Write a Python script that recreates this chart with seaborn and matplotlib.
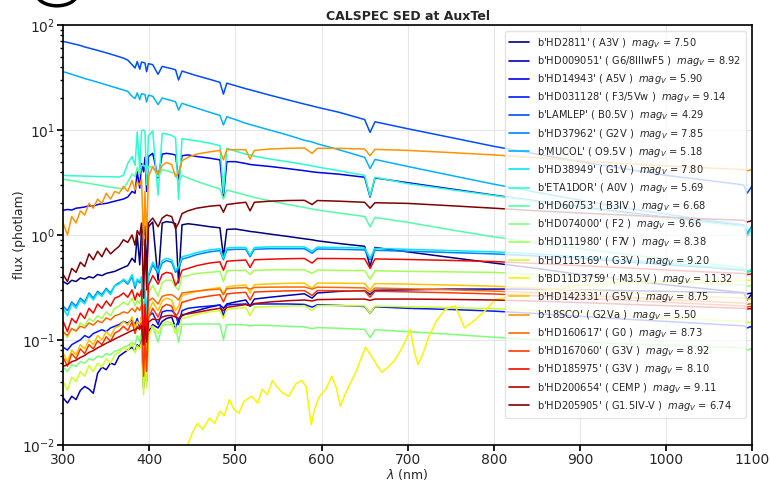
import numpy as np
import pandas as pd
import matplotlib
matplotlib.use("Agg")
import matplotlib.pyplot as plt
import seaborn as sns
from matplotlib.patches import Circle

# ---------------- data ----------------
names = ["HD2811", "HD009051", "HD14943", "HD031128", "LAMLEP", "HD37962", "MUCOL",
         "HD38949", "ETA1DOR", "HD60753", "HD074000", "HD111980", "HD115169",
         "BD11D3759", "HD142331", "18SCO", "HD160617", "HD167060", "HD185975",
         "HD200654", "HD205905"]
sptypes = ["A3V", "G6/8IIIwF5", "A5V", "F3/5Vw", "B0.5V", "G2V", "O9.5V", "G1V", "A0V",
           "B3IV", "F2", "F7V", "G3V", "M3.5V", "G5V", "G2Va", "G0", "G3V", "G3V",
           "CEMP", "G1.5IV-V"]
mags = [7.50, 8.92, 5.90, 9.14, 4.29, 7.85, 5.18, 7.80, 5.69, 6.68, 9.66, 8.38, 9.20,
        11.32, 8.75, 5.50, 8.73, 8.92, 8.10, 9.11, 6.74]

wl = [300, 305, 310, 315, 320, 325, 330, 335, 340, 345,
      350, 355, 360, 365, 370, 375, 380, 383.5, 386, 388.9,
      391, 393.4, 395, 396.9, 399, 404, 410.2, 415, 420, 426,
      430.5, 434, 438, 445, 455, 470, 482, 486.1, 490, 500,
      512, 517, 522, 540, 560, 580, 589, 595, 620, 650,
      656.3, 662, 700, 750, 800, 850, 900, 950, 1000, 1050,
      1090, 1094, 1100]

f_HD2811 = [0.36, 0.34, 0.37, 0.36, 0.39, 0.38, 0.40, 0.39, 0.42, 0.41,
            0.43, 0.44, 0.45, 0.47, 0.49, 0.51, 0.60, 0.55, 1.00, 0.52,
            1.15, 1.00, 1.22, 0.45, 1.20, 1.33, 0.37, 1.30, 1.34, 1.32,
            1.28, 0.35, 1.25, 1.28, 1.25, 1.20, 1.17, 0.62, 1.13, 1.14,
            1.10, 1.08, 1.07, 1.02, 0.97, 0.92, 0.90, 0.88, 0.83, 0.78,
            0.50, 0.76, 0.69, 0.61, 0.54, 0.48, 0.42, 0.375, 0.335, 0.305,
            0.282, 0.24, 0.278]
f_HD009051 = [0.028, 0.025, 0.029, 0.027, 0.033, 0.036, 0.034, 0.031, 0.048, 0.055,
              0.052, 0.060, 0.058, 0.070, 0.075, 0.080, 0.085, 0.078, 0.090, 0.085,
              0.100, 0.035, 0.090, 0.040, 0.120, 0.140, 0.130, 0.150, 0.160, 0.165,
              0.130, 0.155, 0.170, 0.180, 0.190, 0.205, 0.215, 0.200, 0.220, 0.230,
              0.240, 0.210, 0.245, 0.255, 0.265, 0.275, 0.250, 0.280, 0.290, 0.295,
              0.270, 0.297, 0.300, 0.305, 0.305, 0.305, 0.300, 0.295, 0.290, 0.285,
              0.280, 0.275, 0.280]
f_HD14943 = [1.72, 1.75, 1.73, 1.80, 1.82, 1.85, 1.90, 1.88, 1.95, 1.98,
             2.00, 2.05, 2.10, 2.15, 2.20, 2.30, 2.60, 2.50, 4.00, 2.80,
             4.80, 4.00, 5.50, 2.60, 5.60, 6.00, 3.50, 5.90, 6.00, 5.90,
             5.80, 3.40, 5.70, 5.80, 5.60, 5.40, 5.20, 2.30, 5.00, 5.00,
             4.80, 4.70, 4.65, 4.50, 4.30, 4.10, 4.00, 3.95, 3.80, 3.55,
             2.30, 3.50, 3.15, 2.75, 2.40, 2.10, 1.85, 1.65, 1.48, 1.33,
             1.23, 1.00, 1.21]
f_HD031128 = [0.085, 0.080, 0.090, 0.095, 0.100, 0.110, 0.105, 0.115, 0.120, 0.125,
              0.120, 0.130, 0.135, 0.140, 0.150, 0.145, 0.155, 0.140, 0.160, 0.130,
              0.165, 0.100, 0.160, 0.090, 0.170, 0.180, 0.140, 0.185, 0.190, 0.190,
              0.175, 0.140, 0.190, 0.200, 0.205, 0.210, 0.215, 0.170, 0.215, 0.218,
              0.220, 0.210, 0.220, 0.220, 0.220, 0.218, 0.205, 0.216, 0.213, 0.208,
              0.180, 0.207, 0.200, 0.195, 0.188, 0.178, 0.168, 0.158, 0.150, 0.142,
              0.136, 0.130, 0.135]
f_LAMLEP = [70, 68.5, 67, 65.5, 64, 62, 60.5, 59, 57.5, 56,
            54.5, 53, 51.5, 50, 48.5, 46.5, 42, 39, 45, 38,
            44.5, 44, 43.5, 36, 43, 42, 34, 40.5, 39.5, 38.5,
            37.5, 30, 36.5, 35, 33, 30.5, 28.5, 22, 28, 26.5,
            24.8, 24.2, 23.6, 21.5, 19.5, 17.7, 17, 16.5, 14.8, 12.6,
            9.5, 12, 10.3, 8.5, 7.0, 5.9, 5.0, 4.3, 3.7, 3.3,
            3.0, 2.5, 2.95]
f_HD37962 = [0.21, 0.19, 0.23, 0.21, 0.25, 0.23, 0.28, 0.25, 0.29, 0.27,
             0.31, 0.28, 0.33, 0.35, 0.37, 0.34, 0.40, 0.31, 0.37, 0.35,
             0.38, 0.11, 0.29, 0.13, 0.40, 0.52, 0.43, 0.54, 0.57, 0.55,
             0.44, 0.48, 0.59, 0.61, 0.65, 0.69, 0.71, 0.58, 0.72, 0.73,
             0.73, 0.62, 0.73, 0.74, 0.74, 0.74, 0.67, 0.735, 0.73, 0.72,
             0.58, 0.715, 0.70, 0.68, 0.66, 0.63, 0.60, 0.56, 0.52, 0.49,
             0.46, 0.44, 0.46]
f_MUCOL = [36, 35, 34, 33, 32, 31, 30.2, 29.4, 28.6, 27.8,
           27, 26.2, 25.5, 24.8, 24.1, 23.4, 21, 20, 22.6, 19.5,
           22.2, 22.0, 21.8, 18.5, 21.5, 21, 17.5, 20.2, 19.7, 19.1,
           18.6, 15.5, 18, 17.2, 16.2, 14.8, 13.8, 11.2, 13.4, 12.6,
           11.6, 11.3, 11, 10, 9.0, 8.0, 7.7, 7.4, 6.5, 5.5,
           4.3, 5.25, 4.5, 3.7, 3.05, 2.55, 2.15, 1.82, 1.58, 1.38,
           1.25, 1.05, 1.23]
f_HD38949 = [0.20, 0.17, 0.22, 0.20, 0.24, 0.22, 0.27, 0.24, 0.28, 0.26,
             0.30, 0.27, 0.33, 0.34, 0.38, 0.35, 0.42, 0.33, 0.38, 0.36,
             0.40, 0.12, 0.30, 0.14, 0.42, 0.55, 0.45, 0.57, 0.60, 0.58,
             0.46, 0.50, 0.62, 0.64, 0.68, 0.72, 0.74, 0.60, 0.75, 0.76,
             0.76, 0.64, 0.76, 0.77, 0.77, 0.77, 0.70, 0.765, 0.76, 0.75,
             0.60, 0.745, 0.73, 0.71, 0.69, 0.66, 0.62, 0.58, 0.54, 0.50,
             0.47, 0.45, 0.47]
f_ETA1DOR = [3.70, 3.68, 3.67, 3.66, 3.65, 3.64, 3.63, 3.62, 3.61, 3.60,
             3.60, 3.59, 3.58, 3.57, 3.70, 4.80, 5.60, 4.60, 9.60, 4.20,
             9.90, 10.0, 9.70, 3.00, 8.80, 9.80, 2.40, 9.30, 9.20, 8.90,
             8.40, 2.20, 8.30, 8.10, 7.90, 7.50, 7.10, 2.50, 6.70, 6.30,
             5.90, 5.80, 5.65, 5.30, 5.00, 4.70, 4.55, 4.45, 4.10, 3.70,
             2.35, 3.55, 3.08, 2.70, 2.38, 2.08, 1.83, 1.62, 1.45, 1.31,
             1.21, 0.98, 1.19]
f_HD60753 = [3.40, 3.35, 3.30, 3.25, 3.20, 3.15, 3.10, 3.05, 3.00, 2.95,
             2.90, 2.86, 2.82, 2.78, 2.75, 3.20, 3.80, 3.60, 4.40, 3.80,
             4.60, 4.60, 4.55, 3.80, 4.50, 4.40, 3.60, 4.20, 4.10, 3.95,
             3.85, 3.20, 3.70, 3.50, 3.25, 2.95, 2.75, 2.20, 2.68, 2.55,
             2.40, 2.34, 2.28, 2.12, 1.96, 1.83, 1.77, 1.73, 1.62, 1.50,
             1.20, 1.47, 1.32, 1.12, 0.96, 0.84, 0.74, 0.66, 0.59, 0.53,
             0.49, 0.43, 0.48]
f_HD074000 = [0.055, 0.050, 0.058, 0.056, 0.062, 0.060, 0.066, 0.064, 0.070, 0.068,
              0.074, 0.072, 0.078, 0.080, 0.085, 0.088, 0.095, 0.090, 0.110, 0.095,
              0.120, 0.100, 0.125, 0.090, 0.130, 0.135, 0.095, 0.138, 0.140, 0.140,
              0.138, 0.095, 0.140, 0.141, 0.142, 0.142, 0.141, 0.100, 0.140, 0.140,
              0.139, 0.136, 0.138, 0.137, 0.135, 0.133, 0.128, 0.131, 0.129, 0.126,
              0.105, 0.125, 0.120, 0.113, 0.106, 0.100, 0.096, 0.092, 0.089, 0.086,
              0.084, 0.080, 0.083]
f_HD111980 = [0.120, 0.105, 0.130, 0.120, 0.145, 0.135, 0.160, 0.150, 0.170, 0.160,
              0.185, 0.170, 0.200, 0.210, 0.230, 0.215, 0.250, 0.210, 0.240, 0.220,
              0.260, 0.100, 0.220, 0.100, 0.280, 0.330, 0.260, 0.350, 0.370, 0.370,
              0.320, 0.300, 0.400, 0.410, 0.430, 0.440, 0.450, 0.360, 0.455, 0.460,
              0.460, 0.420, 0.460, 0.465, 0.465, 0.465, 0.430, 0.463, 0.460, 0.458,
              0.380, 0.456, 0.450, 0.445, 0.440, 0.420, 0.400, 0.380, 0.360, 0.345,
              0.335, 0.325, 0.330]
f_HD115169 = [0.040, 0.033, 0.044, 0.040, 0.050, 0.045, 0.057, 0.050, 0.060, 0.055,
              0.066, 0.060, 0.072, 0.076, 0.085, 0.078, 0.095, 0.075, 0.088, 0.082,
              0.095, 0.030, 0.070, 0.035, 0.105, 0.135, 0.115, 0.140, 0.150, 0.145,
              0.115, 0.125, 0.160, 0.165, 0.175, 0.185, 0.190, 0.160, 0.195, 0.200,
              0.203, 0.170, 0.205, 0.208, 0.210, 0.212, 0.190, 0.212, 0.212, 0.211,
              0.180, 0.210, 0.207, 0.203, 0.198, 0.190, 0.180, 0.170, 0.162, 0.155,
              0.150, 0.146, 0.149]
wl_BD11D3759 = [444, 450, 456, 462, 470, 476, 482, 487, 493, 498,
                504, 510, 519, 526, 531, 537, 543, 548, 555, 562,
                570, 577, 582, 588, 592, 597, 605, 612, 617, 622,
                627, 631, 640, 651, 658, 664, 670, 677, 685, 692,
                698, 703, 708, 712, 718, 724, 733, 743, 750, 755,
                760, 766, 772, 778, 790, 801, 815, 850, 900, 950,
                1000, 1050, 1100]
f_BD11D3759 = [0.0098, 0.013, 0.016, 0.014, 0.018, 0.016, 0.021, 0.019, 0.027, 0.022,
               0.020, 0.026, 0.029, 0.025, 0.034, 0.030, 0.041, 0.036, 0.031, 0.029,
               0.038, 0.041, 0.036, 0.0155, 0.022, 0.0285, 0.034, 0.045, 0.035, 0.0233,
               0.030, 0.035, 0.050, 0.085, 0.070, 0.058, 0.049, 0.055, 0.064, 0.080,
               0.100, 0.126, 0.075, 0.058, 0.075, 0.105, 0.150, 0.193, 0.205, 0.210,
               0.170, 0.130, 0.142, 0.155, 0.190, 0.240, 0.255, 0.290, 0.330, 0.350,
               0.360, 0.370, 0.370]
f_HD142331 = [0.075, 0.062, 0.080, 0.072, 0.090, 0.082, 0.100, 0.090, 0.110, 0.100,
              0.120, 0.108, 0.130, 0.135, 0.150, 0.138, 0.165, 0.130, 0.150, 0.140,
              0.165, 0.050, 0.120, 0.055, 0.180, 0.230, 0.190, 0.235, 0.250, 0.240,
              0.190, 0.210, 0.265, 0.275, 0.290, 0.305, 0.315, 0.270, 0.320, 0.328,
              0.334, 0.280, 0.336, 0.342, 0.346, 0.348, 0.310, 0.348, 0.347, 0.345,
              0.300, 0.344, 0.340, 0.333, 0.325, 0.312, 0.298, 0.283, 0.270, 0.258,
              0.250, 0.244, 0.248]
f_18SCO = [1.3, 1.0, 1.5, 1.3, 1.7, 1.55, 2.0, 1.8, 2.2, 2.0,
           2.5, 2.2, 2.6, 2.5, 2.9, 2.6, 3.3, 2.7, 3.2, 3.0,
           3.4, 0.8, 2.6, 0.9, 3.6, 4.5, 3.8, 4.6, 4.9, 4.7,
           3.6, 3.9, 5.1, 5.5, 5.9, 6.2, 6.4, 5.2, 6.5, 6.5,
           6.5, 5.3, 6.4, 6.6, 6.7, 6.75, 6.0, 6.7, 6.7, 6.6,
           5.7, 6.55, 6.4, 6.1, 5.8, 5.45, 5.1, 4.8, 4.55, 4.35,
           4.2, 4.1, 4.2]
f_HD160617 = [0.120, 0.110, 0.128, 0.122, 0.135, 0.130, 0.145, 0.138, 0.152, 0.146,
              0.162, 0.155, 0.170, 0.175, 0.185, 0.180, 0.200, 0.185, 0.205, 0.190,
              0.215, 0.120, 0.200, 0.120, 0.235, 0.250, 0.220, 0.260, 0.268, 0.270,
              0.255, 0.240, 0.280, 0.285, 0.292, 0.300, 0.305, 0.270, 0.308, 0.312,
              0.315, 0.305, 0.316, 0.318, 0.319, 0.319, 0.305, 0.318, 0.316, 0.313,
              0.285, 0.312, 0.307, 0.300, 0.292, 0.281, 0.268, 0.255, 0.243, 0.232,
              0.224, 0.218, 0.222]
f_HD167060 = [0.068, 0.056, 0.074, 0.066, 0.082, 0.074, 0.090, 0.082, 0.098, 0.090,
              0.107, 0.097, 0.116, 0.122, 0.135, 0.123, 0.148, 0.115, 0.135, 0.125,
              0.145, 0.045, 0.105, 0.050, 0.160, 0.200, 0.165, 0.205, 0.218, 0.210,
              0.165, 0.183, 0.228, 0.237, 0.250, 0.262, 0.270, 0.230, 0.274, 0.280,
              0.284, 0.240, 0.286, 0.290, 0.293, 0.295, 0.265, 0.295, 0.294, 0.292,
              0.255, 0.291, 0.287, 0.281, 0.274, 0.263, 0.251, 0.239, 0.228, 0.218,
              0.211, 0.206, 0.209]
f_HD185975 = [0.150, 0.120, 0.160, 0.145, 0.180, 0.160, 0.200, 0.180, 0.220, 0.200,
              0.235, 0.210, 0.250, 0.260, 0.280, 0.255, 0.300, 0.240, 0.280, 0.260,
              0.300, 0.090, 0.220, 0.100, 0.330, 0.410, 0.340, 0.420, 0.440, 0.430,
              0.330, 0.370, 0.460, 0.480, 0.510, 0.540, 0.555, 0.460, 0.562, 0.570,
              0.577, 0.490, 0.580, 0.588, 0.594, 0.597, 0.540, 0.597, 0.596, 0.593,
              0.480, 0.591, 0.584, 0.572, 0.558, 0.535, 0.510, 0.487, 0.464, 0.443,
              0.429, 0.419, 0.425]
f_HD200654 = [0.056, 0.058, 0.062, 0.064, 0.068, 0.071, 0.076, 0.079, 0.084, 0.088,
              0.093, 0.097, 0.102, 0.107, 0.112, 0.117, 0.123, 0.125, 0.130, 0.128,
              0.136, 0.090, 0.135, 0.095, 0.148, 0.158, 0.155, 0.165, 0.170, 0.171,
              0.165, 0.160, 0.174, 0.177, 0.183, 0.193, 0.200, 0.190, 0.204, 0.210,
              0.217, 0.212, 0.222, 0.230, 0.236, 0.240, 0.235, 0.242, 0.244, 0.245,
              0.238, 0.245, 0.245, 0.243, 0.240, 0.234, 0.227, 0.219, 0.212, 0.205,
              0.200, 0.197, 0.199]
f_HD205905 = [0.42, 0.36, 0.48, 0.44, 0.55, 0.50, 0.66, 0.58, 0.70, 0.62,
              0.75, 0.66, 0.72, 0.78, 0.90, 0.85, 1.00, 0.80, 1.10, 1.00,
              1.30, 0.25, 0.90, 0.30, 1.30, 1.45, 1.20, 1.45, 1.55, 1.50,
              1.15, 1.30, 1.60, 1.70, 1.80, 1.88, 1.92, 1.65, 1.95, 2.00,
              2.05, 1.70, 2.05, 2.10, 2.13, 2.14, 1.95, 2.13, 2.10, 2.05,
              1.80, 2.03, 2.00, 1.90, 1.80, 1.70, 1.62, 1.55, 1.48, 1.42,
              1.38, 1.33, 1.37]

fluxes = [f_HD2811, f_HD009051, f_HD14943, f_HD031128, f_LAMLEP, f_HD37962, f_MUCOL,
          f_HD38949, f_ETA1DOR, f_HD60753, f_HD074000, f_HD111980, f_HD115169,
          f_BD11D3759, f_HD142331, f_18SCO, f_HD160617, f_HD167060, f_HD185975,
          f_HD200654, f_HD205905]

# ---------------- build long table ----------------
labels = [f"b'{n}' ( {s} )  $mag_V$ = {m:.2f}" for n, s, m in zip(names, sptypes, mags)]
rows = []
for lab, n, fl in zip(labels, names, fluxes):
    w = wl_BD11D3759 if n == "BD11D3759" else wl
    for x, y in zip(w, fl):
        rows.append((lab, x, y))
df = pd.DataFrame(rows, columns=["star", "wavelength", "flux"])

colors = [plt.cm.jet(v) for v in np.linspace(0, 1, len(names))]

# ---------------- plot ----------------
sns.set_theme(style="ticks")
plt.rcParams["font.family"] = ["DejaVu Sans"]

fig = plt.figure(figsize=(7.7, 4.84), dpi=100)
ax = fig.add_axes([0.082, 0.081, 0.895, 0.867])

sns.lineplot(data=df, x="wavelength", y="flux", hue="star", hue_order=labels,
             palette=colors, estimator=None, sort=True, linewidth=1.1, ax=ax)

ax.set_yscale("log")
ax.set_xlim(300, 1100)
ax.set_ylim(1e-2, 1e2)
ax.grid(True, which="major", color="#e6e6e6", linewidth=0.8)
ax.set_axisbelow(True)
for sp in ax.spines.values():
    sp.set_color("black")
    sp.set_linewidth(1.2)
ax.tick_params(axis="both", which="major", labelsize=10, color="black", length=4, pad=2)
ax.tick_params(axis="y", which="minor", length=2.5, color="black")

ax.set_xlabel(r"$\lambda$ (nm)", fontsize=9, labelpad=0)
ax.set_ylabel("flux (photlam)", fontsize=9, labelpad=-3)
ax.set_title("CALSPEC SED at AuxTel", fontsize=9, fontweight="bold", pad=4)

leg = ax.legend(loc="upper right", fontsize=7.1, labelspacing=0.42, handlelength=2.0,
                frameon=True, framealpha=0.8, borderpad=0.5, bbox_to_anchor=(0.998, 0.998))
leg.get_frame().set_edgecolor("#dddddd")
for line in leg.get_lines():
    line.set_linewidth(1.2)

# partial ring seen at the top-left edge of the reference image
ring = Circle((0.074, 1.015), 0.027, transform=fig.transFigure, fill=False,
              edgecolor="black", linewidth=2.5, clip_on=False)
fig.patches.append(ring)

fig.savefig("out.png", dpi=100)
